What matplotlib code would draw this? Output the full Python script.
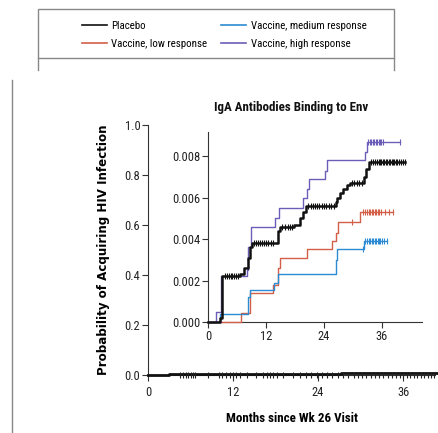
import matplotlib
matplotlib.use("Agg")
import matplotlib.pyplot as plt
from matplotlib.lines import Line2D
from matplotlib.patches import Rectangle
from matplotlib.ticker import FuncFormatter
from matplotlib import font_manager

_avail = {f.name for f in font_manager.fontManager.ttflist}
_cands = ['Roboto Condensed', 'Liberation Sans Narrow', 'Open Sans Condensed', 'Noto Sans Condensed',
          'Liberation Sans']
NARROW = [c for c in _cands if c in _avail][:1] + ['DejaVu Sans']
plt.rcParams['font.family'] = NARROW

# ---------------- data ----------------
series_names = ["Placebo", "Vaccine, low response", "Vaccine, medium response", "Vaccine, high response"]
series_colors = ["#111111", "#d35f48", "#2c8bd2", "#6b5db8"]

placebo_t = [0, 2.4, 3.0, 6.6, 7.4, 8.3, 8.7, 9.1, 14.5, 15.0, 17.8, 19.0, 19.6, 20.3,
             26.4, 26.8, 27.3, 28.0, 28.8, 29.4, 32.2, 32.8, 33.4, 40.8]
placebo_y = [0, 0.0002, 0.0022, 0.0023, 0.0026, 0.0031, 0.0036, 0.0038, 0.0044, 0.0046,
             0.0047, 0.0050, 0.0053, 0.0056, 0.0058, 0.0060, 0.0062, 0.0064, 0.0066, 0.0067,
             0.0070, 0.0074, 0.0077, 0.0077]

low_t = [0, 6.8, 8.7, 13.4, 14.4, 15.0, 20.4, 25.6, 26.6, 27.0, 31.5, 38.4]
low_y = [0, 0.00045, 0.0014, 0.0018, 0.0026, 0.0031, 0.0035, 0.0039, 0.0043, 0.0048, 0.0053, 0.0053]

med_t = [0, 2.5, 8.2, 8.7, 13.6, 14.5, 26.4, 26.8, 32.2, 37.0]
med_y = [0, 0.0004, 0.0012, 0.00155, 0.0019, 0.0023, 0.0030, 0.0035, 0.0039, 0.0039]

high_t = [0, 1.7, 2.6, 8.0, 8.3, 9.0, 13.8, 14.6, 19.7, 20.4, 21.0, 24.3, 24.7, 32.5, 33.0, 39.7]
high_y = [0, 0.0005, 0.0022, 0.0025, 0.0036, 0.0046, 0.0050, 0.0055, 0.0060, 0.0064, 0.0069,
          0.0073, 0.0078, 0.0082, 0.0087, 0.0087]

placebo_cens = [3.6, 4.0, 4.3, 4.7, 5.0, 5.4, 5.8, 6.2, 9.6, 10.0, 10.4, 10.8, 11.2, 11.6, 12.0,
                12.5, 13.0, 13.5, 15.4, 16.0, 16.5, 17.0, 17.4, 20.8, 21.3, 21.8, 22.2, 22.6,
                23.0, 23.5, 24.0, 24.5, 25.0, 25.5, 26.0, 29.8, 30.3, 30.8, 31.3, 31.8,
                33.8, 34.2, 34.6, 35.0, 35.3, 35.6, 35.9, 36.2, 36.5, 36.8, 37.1, 37.4, 37.7,
                38.0, 38.3, 38.6, 38.9, 39.2, 39.6, 40.0, 40.4, 40.8]
low_cens = [29.8, 32.0, 32.5, 33.0, 33.3, 33.6, 33.9, 34.2, 34.5, 34.8, 35.1, 35.4, 35.8,
            36.6, 37.4, 38.4]
med_cens = [32.0, 32.6, 33.0, 33.3, 33.6, 33.9, 34.2, 34.5, 34.8, 35.1, 35.4, 35.7, 36.0, 36.4, 37.0]
high_cens = [33.2, 33.5, 33.8, 34.1, 34.4, 34.7, 35.0, 35.3, 35.6, 35.9, 36.2, 39.7]

main_cens = [4.5, 5.0, 5.3, 5.6, 6.0, 6.3, 6.6, 8.5, 10.0, 10.5, 11.0, 11.6, 12.0, 12.4, 13.0,
             14.0, 15.2, 16.2, 16.8, 17.2, 17.6, 18.2, 19.0, 20.5, 21.5, 22.3, 23.0, 23.8,
             24.5, 25.2, 26.0, 26.8, 27.5, 28.2, 29.0, 29.6, 30.2, 30.8, 31.4, 32.0, 32.6,
             33.2, 33.8, 34.4, 35.0, 35.5, 36.0, 36.5, 37.0, 37.5, 38.0, 38.5, 39.0, 39.5,
             40.0, 40.4]

main_xticks = [0, 12, 24, 36]
main_yticks = [0.0, 0.2, 0.4, 0.6, 0.8, 1.0]
inset_yticks = [0.000, 0.002, 0.004, 0.006, 0.008]

# ---------------- figure ----------------
W, H = 439, 433
fig = plt.figure(figsize=(W / 100, H / 100), dpi=100)

def fx(px):
    return px / W

def fy(py):
    return 1 - py / H

spine_col = "#333333"
tick_fs = 9

# main axes
ax = fig.add_axes([fx(148), fy(375), fx(435) - fx(148), fy(125) - fy(375)])
ax.set_xlim(0, 40.5)
ax.set_ylim(0, 1.0)
for s in ["top", "right"]:
    ax.spines[s].set_visible(False)
for s in ["left", "bottom"]:
    ax.spines[s].set_color(spine_col)
    ax.spines[s].set_linewidth(0.8)
ax.set_xticks(main_xticks)
ax.set_yticks(main_yticks)
ax.yaxis.set_major_formatter(FuncFormatter(lambda v, p: f"{v:.1f}"))
ax.tick_params(axis="both", direction="out", length=4, width=0.8, color=spine_col,
               labelsize=tick_fs, labelcolor="#222222", pad=1.5)
ax.tick_params(axis="x", pad=4)
ax.step(placebo_t, placebo_y, where="post", color="#111111", lw=2.0, clip_on=False, zorder=3)
ax.plot(main_cens, [0.0] * len(main_cens), linestyle="none", marker="|", markersize=4,
        markeredgewidth=0.8, color="#222222", clip_on=False, zorder=3)

ax.set_xlabel("Months since Wk 26 Visit", fontsize=9.4, fontweight="bold")
ax.xaxis.set_label_coords(0.5, -0.148)
ax.set_ylabel("Probability of Acquiring HIV Infection", fontsize=8.6, fontweight="bold",
              family=["DejaVu Sans"])
ax.yaxis.set_label_coords(-0.132, 0.5)

# inset axes
ins = fig.add_axes([fx(208), fy(322), fx(422) - fx(208), fy(132) - fy(322)])
ins.patch.set_alpha(0)
ins.set_xlim(0, 44.3)
ins.set_ylim(0, 0.00916)
for s in ["top", "right"]:
    ins.spines[s].set_visible(False)
for s in ["left", "bottom"]:
    ins.spines[s].set_color(spine_col)
    ins.spines[s].set_linewidth(0.8)
ins.set_xticks(main_xticks)
ins.set_yticks(inset_yticks)
ins.yaxis.set_major_formatter(FuncFormatter(lambda v, p: f"{v:.3f}"))
ins.tick_params(axis="both", direction="out", length=4, width=0.8, color=spine_col,
                labelsize=tick_fs, labelcolor="#222222", pad=1.5)

curves = [(placebo_t, placebo_y, placebo_cens), (low_t, low_y, low_cens),
          (med_t, med_y, med_cens), (high_t, high_y, high_cens)]
order = [1, 2, 3, 0]
for i in order:
    t, y, cens = curves[i]
    lw = 1.8 if i == 0 else 1.0
    ins.step(t, y, where="post", color=series_colors[i], lw=lw, zorder=3 + (i == 0), clip_on=False)
    cy = []
    for c in cens:
        v = y[0]
        for tt, yy in zip(t, y):
            if tt <= c:
                v = yy
        cy.append(v)
    ins.plot(cens, cy, linestyle="none", marker="|", markersize=4, markeredgewidth=0.8,
             color=series_colors[i], zorder=3 + (i == 0), clip_on=False)

fig.text(fx(291), fy(107), "IgA Antibodies Binding to Env", ha="center", va="center",
         fontsize=9.4, fontweight="bold", color="#111111")

# legend
handles = [Line2D([], [], color=c, lw=1.2) for c in series_colors]
fig.legend(handles, series_names,
           ncol=2, loc="upper left", bbox_to_anchor=(fx(82), fy(21)), frameon=False,
           fontsize=7.8, handlelength=2.3, handletextpad=0.4, columnspacing=1.3,
           labelspacing=0.75, borderpad=0, borderaxespad=0)

box_col = "#888888"
fig.add_artist(Rectangle((fx(38), fy(58)), fx(394) - fx(38), fy(9) - fy(58), fill=False,
                         edgecolor=box_col, lw=1.0, transform=fig.transFigure))
fig.add_artist(Line2D([fx(38), fx(38)], [fy(58), fy(70)], color=box_col, lw=1.0,
                      transform=fig.transFigure))
fig.add_artist(Line2D([fx(394), fx(394)], [fy(58), fy(70)], color=box_col, lw=1.0,
                      transform=fig.transFigure))
fig.add_artist(Line2D([fx(12), fx(12)], [fy(80), fy(433)], color=box_col, lw=1.0,
                      transform=fig.transFigure))

fig.savefig("out.png", dpi=100)
